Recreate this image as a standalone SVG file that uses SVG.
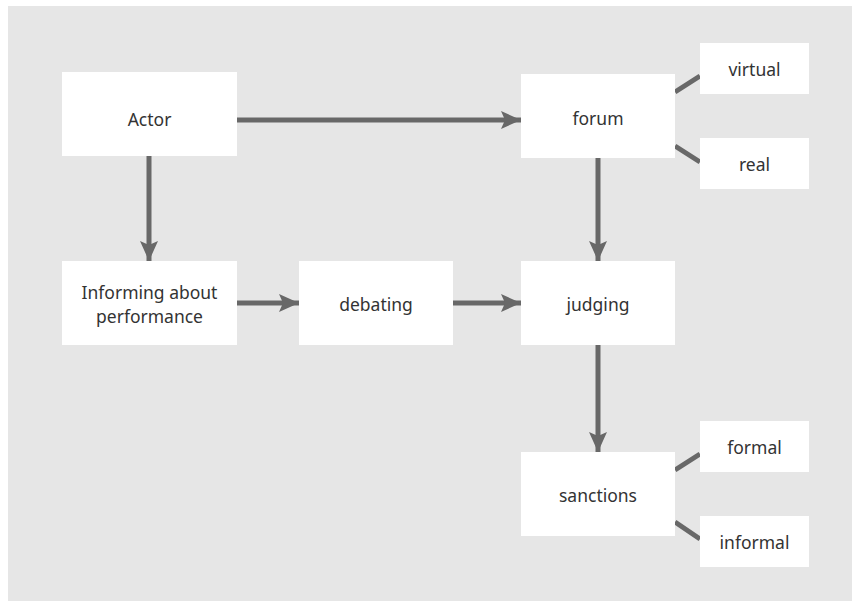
<svg xmlns="http://www.w3.org/2000/svg" width="852" height="601" viewBox="0 0 852 601">
  <style>
    .box { fill: #ffffff; }
    .lbl { font-family: "Noto Sans", "Open Sans", sans-serif; font-size: 17.5px; fill: #333333; text-anchor: middle; }
    .arr { stroke: #686868; stroke-width: 5; fill: none; marker-end: url(#ah); }
    .lnk { stroke: #686868; stroke-width: 5; fill: none; }
  </style>
  <defs>
    <marker id="ah" markerUnits="userSpaceOnUse" markerWidth="22" markerHeight="20" refX="20" refY="0" viewBox="0 -10 22 20" orient="auto">
      <path d="M0,-9 L20,0 L0,9 L4,0 Z" fill="#686868"/>
    </marker>
  </defs>
  <rect x="8" y="6" width="844" height="595" fill="#e6e6e6"/>

  <g id="connectors">
    <line class="arr" x1="237" y1="120" x2="521" y2="120"/>
    <line class="arr" x1="149" y1="156" x2="149" y2="261"/>
    <line class="arr" x1="237" y1="303" x2="299" y2="303"/>
    <line class="arr" x1="453" y1="303" x2="521" y2="303"/>
    <line class="arr" x1="598" y1="158" x2="598" y2="261"/>
    <line class="arr" x1="598" y1="345" x2="598" y2="452"/>
    <line class="lnk" x1="675" y1="92" x2="700" y2="76"/>
    <line class="lnk" x1="675" y1="146" x2="700" y2="162"/>
    <line class="lnk" x1="675" y1="470" x2="700" y2="454"/>
    <line class="lnk" x1="675" y1="522" x2="700" y2="539"/>
  </g>

  <g id="actor">
    <rect class="box" x="62" y="72" width="175" height="84"/>
    <text class="lbl" x="149.5" y="126">Actor</text>
  </g>
  <g id="forum">
    <rect class="box" x="521" y="74" width="154" height="84"/>
    <text class="lbl" x="598" y="125">forum</text>
  </g>
  <g id="virtual">
    <rect class="box" x="700" y="43" width="109" height="51"/>
    <text class="lbl" x="754.5" y="76">virtual</text>
  </g>
  <g id="real">
    <rect class="box" x="700" y="138" width="109" height="51"/>
    <text class="lbl" x="754.5" y="171">real</text>
  </g>
  <g id="informing">
    <rect class="box" x="62" y="261" width="175" height="84"/>
    <text class="lbl" x="149.5" y="299">Informing about</text>
    <text class="lbl" x="149.5" y="323">performance</text>
  </g>
  <g id="debating">
    <rect class="box" x="299" y="261" width="154" height="84"/>
    <text class="lbl" x="376" y="311">debating</text>
  </g>
  <g id="judging">
    <rect class="box" x="521" y="261" width="154" height="84"/>
    <text class="lbl" x="598" y="311">judging</text>
  </g>
  <g id="sanctions">
    <rect class="box" x="521" y="452" width="154" height="84"/>
    <text class="lbl" x="598" y="502">sanctions</text>
  </g>
  <g id="formal">
    <rect class="box" x="700" y="421" width="109" height="51"/>
    <text class="lbl" x="754.5" y="454">formal</text>
  </g>
  <g id="informal">
    <rect class="box" x="700" y="516" width="109" height="51"/>
    <text class="lbl" x="754.5" y="549">informal</text>
  </g>
</svg>
